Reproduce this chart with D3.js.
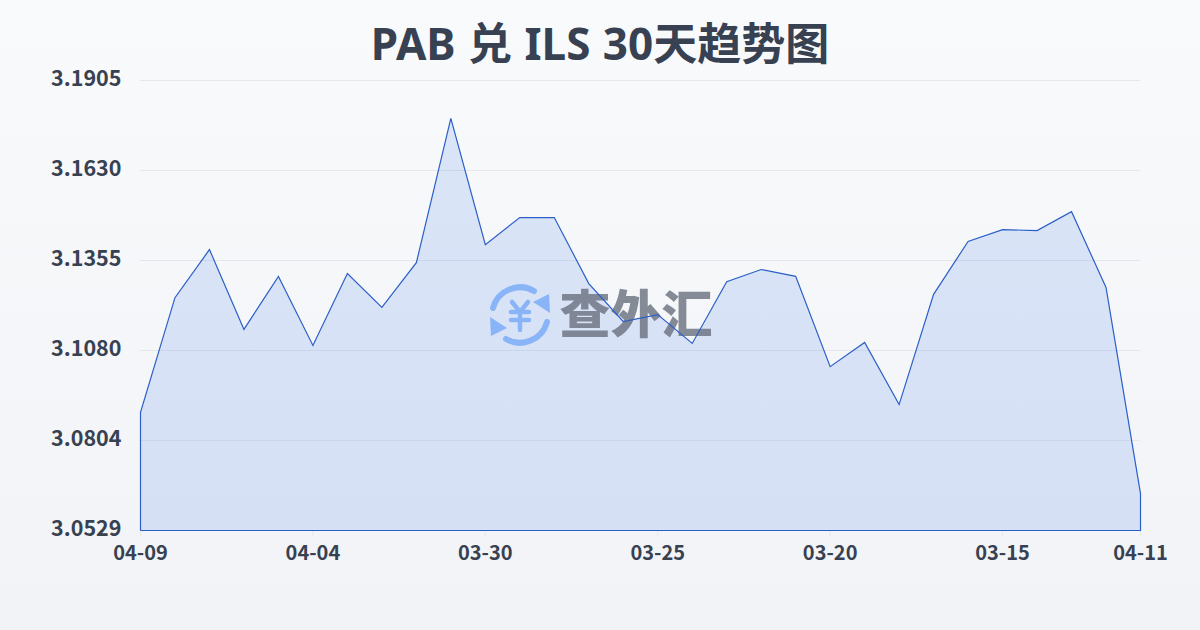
<!DOCTYPE html>
<html><head><meta charset="utf-8">
<script src="https://cdn.jsdelivr.net/npm/d3@7"></script>
<style>html,body{margin:0;padding:0;background:#f8fafc}svg{display:block}</style>
</head><body><svg id="c" width="1200" height="630"></svg>
<script>
const titleText = "PAB 兑 ILS 30天趋势图";
const categories = ["04-09","04-08","04-07","04-06","04-05","04-04","04-03","04-02","04-01","03-31","03-30","03-29","03-28","03-27","03-26","03-25","03-24","03-23","03-22","03-21","03-20","03-19","03-18","03-17","03-16","03-15","03-14","03-13","03-12","04-11"];
const rates = [3.0890,3.1241,3.1388,3.1144,3.1306,3.1095,3.1315,3.1211,3.1348,3.1789,3.1403,3.1486,3.1486,3.1284,3.1168,3.1189,3.1101,3.1290,3.1327,3.1306,3.1030,3.1104,3.0914,3.1251,3.1413,3.1449,3.1446,3.1504,3.1272,3.0642];
const yTickValues = [3.0529,3.0804,3.1080,3.1355,3.1630,3.1905];
const xTickLabels = ["04-09","04-04","03-30","03-25","03-20","03-15","04-11"];
const brandText = "查外汇";
const FONT = '"Noto Sans CJK SC",sans-serif';
const TITLE_FONT = '"Noto Sans","Noto Sans CJK SC",sans-serif';

const svg = d3.select("#c");
const defs = svg.append("defs");
const bg = defs.append("linearGradient").attr("id","bg").attr("x1",0).attr("y1",0).attr("x2",0).attr("y2",1);
bg.append("stop").attr("offset",0).attr("stop-color","#f8fafc");
bg.append("stop").attr("offset",1).attr("stop-color","#f1f3f6");
svg.append("rect").attr("width",1200).attr("height",630).attr("fill","url(#bg)");

const x = d3.scalePoint().domain(d3.range(categories.length)).range([140.5,1140.5]);
const y = d3.scaleLinear().domain([3.0529,3.1905]).range([530.5,80.5]);

svg.append("g").selectAll("line").data(yTickValues).join("line")
  .attr("x1",140).attr("x2",1140).attr("y1",d=>Math.round(y(d)-.5)+.5).attr("y2",d=>Math.round(y(d)-.5)+.5)
  .attr("stroke","#e5e7eb").attr("stroke-width",1);

svg.append("g").selectAll("text").data(yTickValues).join("text")
  .attr("x",121.5).attr("y",d=>y(d)+5.5).attr("text-anchor","end")
  .attr("font-family",FONT).attr("font-weight",700).attr("font-size",21.5).attr("fill","#374151")
  .text(d=>d.toFixed(4));

const xIdx = d3.range(0,categories.length,5).concat([categories.length-1]);
svg.append("g").selectAll("line").data(xIdx).join("line")
  .attr("x1",d=>x(d)).attr("x2",d=>x(d)).attr("y1",530).attr("y2",536)
  .attr("stroke","#e5e7eb");
svg.append("g").selectAll("text").data(xIdx).join("text")
  .attr("x",d=>x(d)).attr("y",560).attr("text-anchor","middle")
  .attr("font-family",FONT).attr("font-weight",700).attr("font-size",20).attr("fill","#374151")
  .text((d,i)=>xTickLabels[i]);

const area = d3.area().x((d,i)=>x(i)).y0(530.5).y1(d=>y(d));
svg.append("path").datum(rates).attr("d",area).attr("fill","#2f68e8").attr("fill-opacity",.14);

const wm = svg.append("g").attr("transform","translate(520,315)");
wm.append("path").attr("d","M-27,-7 A28,28 0 0 1 14,-24").attr("fill","none").attr("stroke","#8ab4f8").attr("stroke-width",6).attr("stroke-linecap","round");
wm.append("path").attr("d","M27,7 A28,28 0 0 1 -14,24").attr("fill","none").attr("stroke","#8ab4f8").attr("stroke-width",6).attr("stroke-linecap","round");
wm.append("path").attr("d","M30,-2 L29,-21 L13,-13 Z").attr("fill","#8ab4f8");
wm.append("path").attr("d","M-30,2 L-29,21 L-13,13 Z").attr("fill","#8ab4f8");
wm.append("g").attr("fill","none").attr("stroke","#8ab4f8").attr("stroke-width",4.5).attr("stroke-linecap","round")
  .selectAll("path").data(["M-8,-13 L0,-3 L8,-13","M0,-3 L0,15","M-9,-3 L9,-3","M-9,5 L9,5"]).join("path").attr("d",d=>d);
svg.append("text").attr("x",636).attr("y",333).attr("text-anchor","middle").attr("font-family",FONT).attr("font-weight",900).attr("font-size",51).attr("fill","#6b7280").attr("fill-opacity",.82).text(brandText);

svg.append("path").attr("d",
  d3.line()([[x(0),530.5],[x(0),y(rates[0])]].concat(rates.map((d,i)=>[x(i),y(d)])).concat([[x(rates.length-1),530.5],[x(0),530.5]])))
  .attr("fill","none").attr("stroke","#2b5fc8").attr("stroke-width",1.2);

svg.append("text").attr("x",600).attr("y",60).attr("text-anchor","middle").attr("word-spacing",1)
  .attr("font-family",TITLE_FONT).attr("font-weight",700).attr("font-size",44).attr("fill","#374151").text(titleText);
</script></body></html>
